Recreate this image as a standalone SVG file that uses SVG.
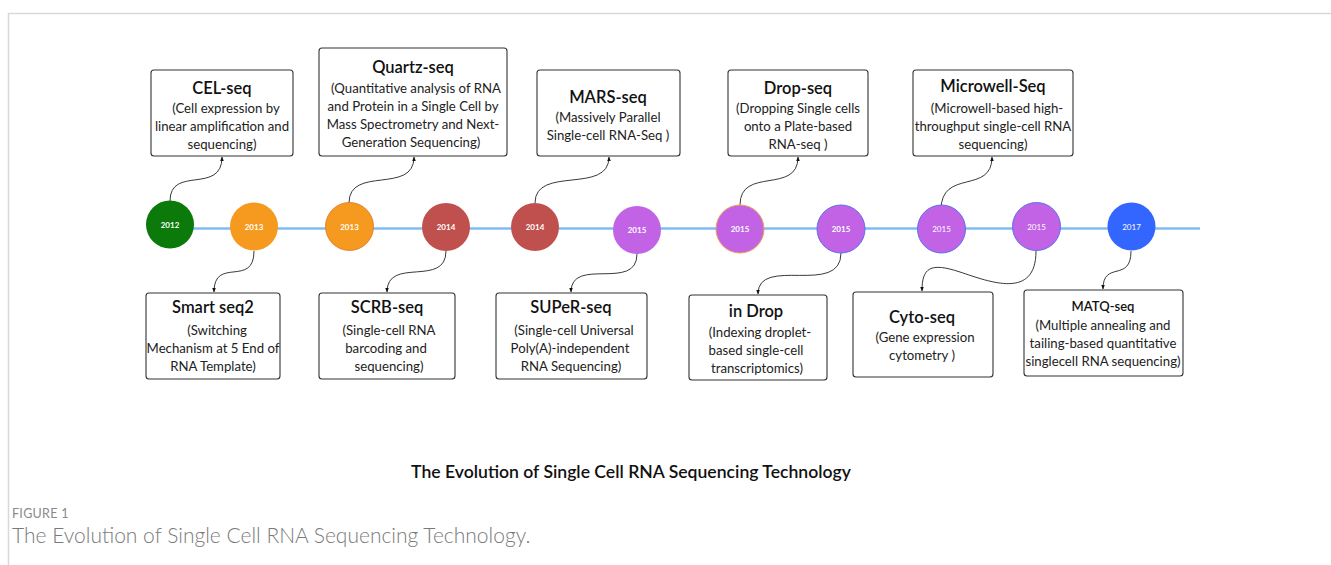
<svg xmlns="http://www.w3.org/2000/svg" width="1331" height="565" viewBox="0 0 1331 565">
<defs>
<style>
.frame{stroke:#d9d9d9;stroke-width:1.5;fill:none}
.tl{stroke:#7fbcf2;stroke-width:2.5}
.box{fill:#fff;stroke:#333;stroke-width:1.1}
.t{font-family:Lato,"Liberation Sans",sans-serif;font-size:16.5px;font-weight:600;fill:#111;text-anchor:middle}
.d{font-family:Lato,"Liberation Sans",sans-serif;font-size:13.2px;fill:#222;text-anchor:middle}
.yr{font-family:Lato,"Liberation Sans",sans-serif;font-size:8px;font-weight:700;fill:#fff;text-anchor:middle}
.c{fill:none;stroke:#222;stroke-width:0.9;marker-end:url(#ah)}
</style>
<marker id="ah" viewBox="0 0 10 10" refX="9" refY="5" markerWidth="5" markerHeight="5" orient="auto">
<path d="M0,1 L10,5 L0,9 z" fill="#111"/>
</marker>
</defs>
<rect width="1331" height="565" fill="#fff"/>
<path class="frame" d="M8.5,565 V13.5 H1331"/>

<line class="tl" x1="170" y1="228.5" x2="1200" y2="228.5"/>

<g id="connectors">
<path class="c" d="M170,201 C170,165 222,195 222,157"/>
<path class="c" d="M349,203 C349,165 414,195 414,157"/>
<path class="c" d="M535,203 C535,165 609,195 609,157"/>
<path class="c" d="M740,205 C740,166 798,195 798,157"/>
<path class="c" d="M941,210 C941,168 992,195 992,157"/>
<path class="c" d="M254,251 C254,288 214,256 214,292"/>
<path class="c" d="M446,251 C446,288 387,256 387,292"/>
<path class="c" d="M637,254 C637,292 571,256 571,292"/>
<path class="c" d="M841,253 C841,297 758,255 758,294"/>
<path class="c" d="M1036,251 C1036,300 990,282 960,272 C930,262 922,268 922,291"/>
<path class="c" d="M1131,251 C1131,283 1103,260 1103,289"/>
</g>

<g id="y2012"><circle cx="170" cy="224.5" r="24" fill="#0b7a0b"/><text class="yr" x="170" y="227.5">2012</text></g>
<g id="y2013a"><circle cx="254" cy="226.5" r="24" fill="#f59a1e"/><text class="yr" x="254" y="229.5">2013</text></g>
<g id="y2013b"><circle cx="349.5" cy="226.5" r="24" fill="#f59a1e" stroke="#e0702a" stroke-width="0.8"/><text class="yr" x="349.5" y="229.5">2013</text></g>
<g id="y2014a"><circle cx="446" cy="227" r="24" fill="#c0504d"/><text class="yr" x="446" y="230">2014</text></g>
<g id="y2014b"><circle cx="535" cy="227" r="24" fill="#c0504d"/><text class="yr" x="535" y="230">2014</text></g>
<g id="y2015a"><circle cx="637" cy="230" r="24" fill="#c263e6"/><text class="yr" x="637" y="233">2015</text></g>
<g id="y2015b"><circle cx="740" cy="229" r="24" fill="#c263e6" stroke="#f0a050" stroke-width="1"/><text class="yr" x="740" y="232">2015</text></g>
<g id="y2015c"><circle cx="841" cy="229" r="24" fill="#c263e6" stroke="#5a6ef0" stroke-width="1"/><text class="yr" x="841" y="232">2015</text></g>
<g id="y2015d"><circle cx="941.5" cy="229" r="24" fill="#c263e6" stroke="#5a6ef0" stroke-width="1"/><text class="yr" x="941.5" y="232" style="font-weight:400">2015</text></g>
<g id="y2015e"><circle cx="1036.5" cy="226.5" r="24" fill="#c263e6" stroke="#5a6ef0" stroke-width="1"/><text class="yr" x="1036.5" y="229.5" style="font-weight:400">2015</text></g>
<g id="y2017"><circle cx="1131.5" cy="226.5" r="24" fill="#3366ff"/><text class="yr" x="1131.5" y="229.5" style="font-weight:400">2017</text></g>

<g id="celseq"><rect class="box" x="151" y="70" width="142" height="86" rx="3"/>
<text class="t" x="222" y="94">CEL-seq</text>
<text class="d" x="226" y="113">(Cell expression by</text>
<text class="d" x="222" y="131">linear amplification and</text>
<text class="d" x="222" y="149">sequencing)</text></g>

<g id="quartzseq"><rect class="box" x="319" y="48" width="188" height="108" rx="3"/>
<text class="t" x="413" y="73">Quartz-seq</text>
<text class="d" x="416" y="93">(Quantitative analysis of RNA</text>
<text class="d" x="413" y="111">and Protein in a Single Cell by</text>
<text class="d" x="413" y="129">Mass Spectrometry and Next-</text>
<text class="d" x="411" y="147">Generation Sequencing)</text></g>

<g id="marsseq"><rect class="box" x="537" y="70" width="143" height="86" rx="3"/>
<text class="t" x="608" y="103">MARS-seq</text>
<text class="d" x="608" y="122">(Massively Parallel</text>
<text class="d" x="608" y="140">Single-cell RNA-Seq )</text></g>

<g id="dropseq"><rect class="box" x="728" y="70" width="140" height="86" rx="3"/>
<text class="t" x="798" y="94">Drop-seq</text>
<text class="d" x="798" y="113">(Dropping Single cells</text>
<text class="d" x="798" y="131">onto a Plate-based</text>
<text class="d" x="798" y="149">RNA-seq )</text></g>

<g id="microwellseq"><rect class="box" x="913" y="70" width="160" height="86" rx="3"/>
<text class="t" x="993" y="92">Microwell-Seq</text>
<text class="d" x="997" y="113">(Microwell-based high-</text>
<text class="d" x="993" y="131">throughput single-cell RNA</text>
<text class="d" x="993" y="149">sequencing)</text></g>

<g id="smartseq2"><rect class="box" x="146" y="293" width="134" height="86" rx="3"/>
<text class="t" x="213" y="313">Smart seq2</text>
<text class="d" x="217" y="335">(Switching</text>
<text class="d" x="213" y="353">Mechanism at 5 End of</text>
<text class="d" x="213" y="371">RNA Template)</text></g>

<g id="scrbseq"><rect class="box" x="319" y="293" width="136" height="86" rx="3"/>
<text class="t" x="387" y="313">SCRB-seq</text>
<text class="d" x="389" y="335">(Single-cell RNA</text>
<text class="d" x="386" y="353">barcoding and</text>
<text class="d" x="389" y="371">sequencing)</text></g>

<g id="superseq"><rect class="box" x="496" y="293" width="151" height="86" rx="3"/>
<text class="t" x="571" y="313">SUPeR-seq</text>
<text class="d" x="574" y="335">(Single-cell Universal</text>
<text class="d" x="570" y="353">Poly(A)-independent</text>
<text class="d" x="571" y="371">RNA Sequencing)</text></g>

<g id="indrop"><rect class="box" x="689" y="295" width="138" height="85" rx="3"/>
<text class="t" x="756" y="317">in Drop</text>
<text class="d" x="760" y="337">(Indexing droplet-</text>
<text class="d" x="756" y="355">based single-cell</text>
<text class="d" x="757" y="373">transcriptomics)</text></g>

<g id="cytoseq"><rect class="box" x="853" y="292" width="140" height="85" rx="3"/>
<text class="t" x="922" y="323">Cyto-seq</text>
<text class="d" x="925" y="342">(Gene expression</text>
<text class="d" x="922" y="360">cytometry )</text></g>

<g id="matqseq"><rect class="box" x="1024" y="290" width="159" height="86" rx="3"/>
<text class="t" x="1103" y="311" style="font-size:13px">MATQ-seq</text>
<text class="d" x="1103" y="330">(Multiple annealing and</text>
<text class="d" x="1103" y="348">tailing-based quantitative</text>
<text class="d" x="1103" y="366">singlecell RNA sequencing)</text></g>

<text x="631" y="478" style="font-family:Lato,'Liberation Sans',sans-serif;font-size:17.6px;font-weight:600;fill:#111;text-anchor:middle">The Evolution of Single Cell RNA Sequencing Technology</text>
<text x="12" y="518" style="font-family:Lato,'Liberation Sans',sans-serif;font-size:12.5px;fill:#8a8a8a;letter-spacing:0.3px">FIGURE 1</text>
<text x="12" y="543" style="font-family:Lato,'Liberation Sans',sans-serif;font-size:21px;font-weight:300;fill:#7a7a7a">The Evolution of Single Cell RNA Sequencing Technology.</text>
</svg>
